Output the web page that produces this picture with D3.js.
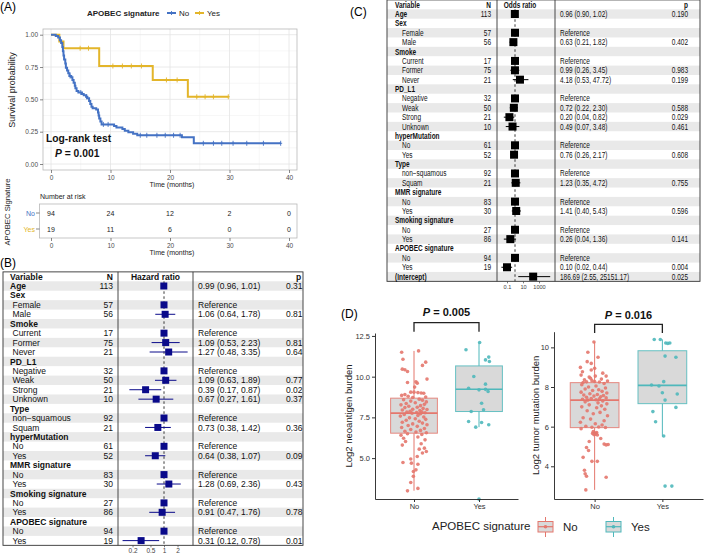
<!DOCTYPE html>
<html><head><meta charset="utf-8">
<script src="https://cdn.jsdelivr.net/npm/d3@7/dist/d3.min.js"></script>
<style>
html,body{margin:0;padding:0;background:#fff;}
svg text{font-family:'Liberation Sans',Arial,Helvetica,sans-serif;}
</style></head><body>
<svg id="fig" width="709" height="556"></svg>
<script>
// ================= DATA =================
// Panel A: Kaplan-Meier (APOBEC signature No / Yes)
const kmGroups = ["No", "Yes"];
const kmNoT = [0,0.8,1.2,1.5,1.7,1.9,2.0,2.1,2.2,2.4,2.5,2.7,2.9,3.1,3.4,3.6,3.8,4.0,4.1,4.3,4.6,5.2,5.5,5.9,6.1,6.4,6.6,6.8,7.0,7.6,7.9,8.0,8.1,8.3,8.5,10.6,11.0,12.0,12.4,13.0,13.8,14.5,22.0,24.0];
const kmNoS = [1,0.989,0.979,0.957,0.936,0.904,0.872,0.840,0.809,0.777,0.745,0.723,0.702,0.681,0.670,0.649,0.628,0.606,0.585,0.564,0.553,0.542,0.531,0.520,0.509,0.487,0.465,0.443,0.432,0.421,0.398,0.375,0.352,0.329,0.306,0.294,0.282,0.270,0.258,0.246,0.234,0.222,0.206,0.160];
const kmNoEnd = 38.6;
const kmNoCensor = [3.2,5.0,6.0,8.8,9.6,15.0,16.1,17.8,19.2,20.6,21.7,25.6,27.3,28.7,30.6,32.9,35.7,38.6];
const kmYesT = [0,1.4,2.1,8.1,17.1,23.0];
const kmYesS = [1,0.947,0.895,0.758,0.650,0.520];
const kmYesEnd = 29.8;
const kmYesCensor = [4.9,6.3,10.4,12.0,13.5,15.2,19.4,21.2,24.5,25.9,27.3,29.8];
const kmXTicks = [0,10,20,30,40];
const kmYTicks = [0,0.25,0.5,0.75,1];
const riskTimes = [0,10,20,30,40];
const riskNo = [94,24,12,2,0];
const riskYes = [19,11,6,0,0];
const logRankP = "0.001";

// Panel B: Cox model hazard ratios
const hrLabels = ["Age","Sex","Female","Male","Smoke","Current","Former","Never","PD_L1","Negative","Weak","Strong","Unknown","Type","non\u2212squamous","Squam","hyperMutation","No","Yes","MMR signature","No","Yes","Smoking signature","No","Yes","APOBEC signature","No","Yes"];
const hrIsVar = [1,1,0,0,1,0,0,0,1,0,0,0,0,1,0,0,1,0,0,1,0,0,1,0,0,1,0,0];
const hrN = [113,null,57,56,null,17,75,21,null,32,50,21,10,null,92,21,null,61,52,null,83,30,null,27,86,null,94,19];
const hrEst = [0.99,null,1,1.06,null,1,1.09,1.27,null,1,1.09,0.39,0.67,null,1,0.73,null,1,0.64,null,1,1.28,null,1,0.91,null,1,0.31];
const hrLo = [0.96,null,null,0.64,null,null,0.53,0.48,null,null,0.63,0.17,0.27,null,null,0.38,null,null,0.38,null,null,0.69,null,null,0.47,null,null,0.12];
const hrHi = [1.01,null,null,1.78,null,null,2.23,3.35,null,null,1.89,0.87,1.61,null,null,1.42,null,null,1.07,null,null,2.36,null,null,1.76,null,null,0.78];
const hrP = ["0.31","","","0.81","","","0.81","0.64","","","0.77","0.02","0.37","","","0.36","","","0.09","","","0.43","","","0.78","","","0.01"];
const hrTicks = [0.2,0.5,1,2];

// Panel C: logistic model odds ratios
const orLabels = ["Age","Sex","Female","Male","Smoke","Current","Former","Never","PD_L1","Negative","Weak","Strong","Unknown","hyperMutation","No","Yes","Type","non\u2212squamous","Squam","MMR signature","No","Yes","Smoking signature","No","Yes","APOBEC signature","No","Yes","(Intercept)"];
const orIsVar = [1,1,0,0,1,0,0,0,1,0,0,0,0,1,0,0,1,0,0,1,0,0,1,0,0,1,0,0,1];
const orN = [113,null,57,56,null,17,75,21,null,32,50,21,10,null,61,52,null,92,21,null,83,30,null,27,86,null,94,19,null];
const orEst = [0.96,null,1,0.63,null,1,0.99,4.18,null,1,0.72,0.20,0.49,null,1,0.76,null,1,1.23,null,1,1.41,null,1,0.26,null,1,0.10,186.69];
const orLo = [0.90,null,null,0.21,null,null,0.26,0.53,null,null,0.22,0.04,0.07,null,null,0.26,null,null,0.35,null,null,0.40,null,null,0.04,null,null,0.02,2.55];
const orHi = [1.02,null,null,1.82,null,null,3.45,47.72,null,null,2.30,0.82,3.48,null,null,2.17,null,null,4.72,null,null,5.43,null,null,1.36,null,null,0.44,25151.17];
const orP = ["0.190","","","0.402","","","0.983","0.199","","","0.588","0.029","0.461","","","0.608","","","0.755","","","0.596","","","0.141","","","0.004","0.025"];
const orTicks = [0.1,10,1000];

// Panel D: boxplots  [value, jitter (fraction of category step)]
const boxGroups = ["No","Yes"];
const neoNo = [[11.50,-0.19],[11.58,0.07],[11.07,-0.17],[10.46,-0.18],[10.42,-0.14],[10.32,-0.10],[10.89,0.18],[10.69,0.13],[9.85,0.20],[9.64,-0.10],[9.68,0.03],[9.60,0.05],[9.36,0.01],[9.05,-0.05],[9.05,0.00],[9.02,0.06],[9.00,0.11],[8.98,0.15],[8.90,-0.14],[8.85,-0.19],[8.80,-0.09],[8.75,0.18],[8.72,-0.02],
 [8.62,0.08],[8.58,-0.16],[8.55,0.13],[8.50,-0.05],[8.45,0.19],[8.40,0.02],[8.35,-0.12],[8.30,0.16],[8.27,-0.20],[8.22,0.10],[8.18,-0.08],[8.12,0.05],[8.10,-0.14],[8.05,0.14],[8.00,-0.02],[7.98,0.20],[7.95,-0.18],[7.92,0.09],[7.88,-0.06],[7.85,0.12],[7.82,-0.11],[7.80,0.04],[7.78,0.17],
 [7.76,-0.03],
 [7.72,0.10],[7.68,-0.15],[7.62,0.06],[7.58,-0.21],[7.52,0.15],[7.47,-0.07],[7.42,0.02],[7.38,0.18],[7.32,-0.12],[7.26,0.08],[7.20,-0.18],[7.15,0.13],[7.10,-0.02],[7.05,0.20],[7.00,-0.09],[6.95,0.05],[6.88,-0.19],[6.82,0.16],[6.76,-0.05],[6.70,0.10],[6.65,-0.14],[6.60,0.03],[6.56,0.19],
 [6.50,-0.10],[6.45,0.12],[6.40,-0.20],[6.30,0.06],[6.22,-0.16],[6.12,0.17],[6.02,-0.13],[5.88,0.11],[5.80,-0.18],[5.61,0.16],[5.55,0.08],[5.41,0.19],[5.31,0.13],[5.10,0.05],[4.95,-0.05],[4.73,-0.17],[4.69,-0.04],[4.62,0.06],[4.28,0.03],[4.18,-0.01],[3.88,-0.01],[3.50,-0.05],[3.14,0.06],[2.99,-0.10]];
const neoYes = [[11.65,-0.20],[12.10,0.01],[11.03,0.10],[11.20,0.15],[10.93,0.16],[10.01,-0.08],[9.54,0.10],[9.29,-0.16],[9.19,0.00],[9.22,0.10],[9.09,0.14],[8.37,0.04],[7.97,0.07],[7.86,-0.12],[7.25,-0.16],[6.90,-0.05],[7.19,0.04],[7.05,0.15],[2.48,0.0]];
// box stats: [lower whisker, Q1, median, Q3, upper whisker]
const neoStats = [[3.0,6.53,7.76,8.68,11.58],[6.9,7.86,9.23,10.66,12.10]];
const neoTicks = [5.0,7.5,10.0,12.5];
const neoP = "0.005";

const tmbNo = [[10.27,-0.01],[9.75,-0.10],[9.50,0.05],[9.28,-0.11],[9.19,-0.05],[8.99,-0.21],[8.94,0.00],[8.86,-0.05],[8.77,-0.18],[8.70,0.12],[8.60,-0.20],[8.55,0.01],[8.55,0.17],[8.50,-0.08],[8.44,-0.06],[8.40,0.10],[8.36,-0.15],[8.32,-0.04],[8.30,0.19],[8.28,0.00],[8.26,-0.12],[8.25,0.07],[8.23,-0.17],
 [8.18,0.14],[8.12,-0.19],[8.05,0.02],[8.00,-0.09],[7.95,0.16],[7.90,-0.14],[7.86,0.06],[7.82,-0.03],[7.78,0.11],[7.74,-0.20],[7.70,0.18],[7.66,-0.07],[7.62,0.04],[7.60,-0.16],[7.57,0.13],[7.54,-0.01],[7.51,0.09],[7.48,-0.12],[7.45,0.17],[7.42,-0.05],[7.40,0.07],[7.38,-0.18],[7.36,0.02],
 [7.34,-0.10],
 [7.30,0.12],[7.25,-0.14],[7.20,0.05],[7.15,0.18],[7.10,-0.08],[7.05,0.10],[7.00,-0.19],[6.95,0.03],[6.88,0.15],[6.80,-0.11],[6.72,0.08],[6.65,-0.02],[6.55,0.19],[6.45,-0.17],[6.38,-0.06],[6.30,0.14],[6.22,-0.21],[6.15,0.01],[6.08,0.11],[6.02,-0.13],[5.98,0.06],[5.97,-0.04],[5.96,0.16],
 [5.90,-0.20],[5.75,-0.02],[5.70,0.03],[5.68,0.00],[5.66,-0.03],[5.65,0.02],[5.62,0.01],[5.60,-0.01],[5.58,0.04],[5.40,0.09],[5.25,-0.08],[5.12,0.14],[5.10,0.20],[5.08,0.17],[4.95,-0.12],[4.80,-0.09],[4.45,-0.17],[4.25,-0.04],[4.25,0.04],[3.80,-0.15],[3.62,-0.14],[3.50,-0.12],[3.45,0.17],[2.81,-0.13]];
const tmbYes = [[10.40,-0.12],[10.40,-0.03],[10.22,0.05],[10.20,0.08],[10.22,0.11],[9.56,0.04],[9.50,0.20],[8.10,-0.16],[8.05,-0.05],[8.27,0.02],[7.71,0.00],[7.65,0.22],[7.34,0.04],[6.97,0.20],[6.76,-0.14],[6.25,-0.10],[5.53,0.02],[3.00,0.04],[3.00,0.14]];
const tmbStats = [[2.81,5.95,7.34,8.22,10.27],[5.50,7.16,8.08,9.83,10.40]];
const tmbTicks = [4,6,8,10];
const tmbP = "0.016";

// ================= DRAWING =================
const svg = d3.select("#fig");
function txt(g, x, y, s, o) {
  o = o || {};
  const e = g.append("text").text(s)
    .attr("font-size", o.size || 8)
    .attr("fill", o.fill || "#000")
    .attr("text-anchor", o.anchor || "start");
  if (o.bold) e.attr("font-weight", "bold");
  if (o.italic) e.attr("font-style", "italic");
  let tr = `translate(${x},${y})`;
  if (o.rotate) tr += ` rotate(${o.rotate})`;
  if (o.sx) tr += ` scale(${o.sx},1)`;
  e.attr("transform", tr);
  return e;
}
function pLabel(g, x, y, val, size, anchor) {
  const t = g.append("text").attr("transform", `translate(${x},${y})`)
    .attr("text-anchor", anchor || "middle").attr("font-size", size)
    .attr("font-weight", "bold").attr("fill", "#111");
  t.append("tspan").attr("font-style", "italic").text("P");
  t.append("tspan").text(" = " + val);
}

// panel letters
txt(svg, 0, 11, "(A)", {size: 12});
txt(svg, 0, 267, "(B)", {size: 12});
txt(svg, 350, 16, "(C)", {size: 12});
txt(svg, 341, 318, "(D)", {size: 12});

// ---------- Panel A ----------
const kmCol = ["#4472C4", "#E3B52A"];
const gA = svg.append("g");
const xKM = d3.scaleLinear().domain([0, 40]).range([51, 289]);
const yKM = d3.scaleLinear().domain([0, 1]).range([164, 34.7]);
const PA = {l: 43, r: 297, t: 29, b: 170};
const minorX = kmXTicks.slice(0, -1).map((d, i) => (d + kmXTicks[i + 1]) / 2);
const minorY = kmYTicks.slice(0, -1).map((d, i) => (d + kmYTicks[i + 1]) / 2);
gA.selectAll(null).data(minorX).join("line")
  .attr("x1", d => xKM(d)).attr("x2", d => xKM(d)).attr("y1", PA.t).attr("y2", PA.b)
  .attr("stroke", "#f2f2f2").attr("stroke-width", 0.6);
gA.selectAll(null).data(minorY).join("line")
  .attr("y1", d => yKM(d)).attr("y2", d => yKM(d)).attr("x1", PA.l).attr("x2", PA.r)
  .attr("stroke", "#f2f2f2").attr("stroke-width", 0.6);
gA.selectAll(null).data(kmXTicks).join("line")
  .attr("x1", d => xKM(d)).attr("x2", d => xKM(d)).attr("y1", PA.t).attr("y2", PA.b)
  .attr("stroke", "#e4e4e4").attr("stroke-width", 0.8);
gA.selectAll(null).data(kmYTicks).join("line")
  .attr("y1", d => yKM(d)).attr("y2", d => yKM(d)).attr("x1", PA.l).attr("x2", PA.r)
  .attr("stroke", "#e4e4e4").attr("stroke-width", 0.8);
gA.append("rect").attr("x", PA.l).attr("y", PA.t).attr("width", PA.r - PA.l).attr("height", PA.b - PA.t)
  .attr("fill", "none").attr("stroke", "#b8b8b8").attr("stroke-width", 0.8);

function styleAxis(sel, size, col) {
  sel.select(".domain").remove();
  sel.selectAll(".tick line").attr("stroke", col || "#555").attr("stroke-width", 0.7);
  sel.selectAll(".tick text").attr("font-size", size).attr("fill", col || "#4d4d4d")
    .attr("font-family", "'Liberation Sans',Arial,sans-serif");
}
const axXA = gA.append("g").attr("transform", `translate(0,${PA.b})`)
  .call(d3.axisBottom(xKM).tickValues(kmXTicks).tickSize(3).tickPadding(2));
styleAxis(axXA, 6.5);
const axYA = gA.append("g").attr("transform", `translate(${PA.l},0)`)
  .call(d3.axisLeft(yKM).tickValues(kmYTicks).tickFormat(d3.format(".2f")).tickSize(3).tickPadding(2));
styleAxis(axYA, 6.5);
txt(gA, 172, 187, "Time (months)", {size: 7, anchor: "middle", fill: "#222"});
txt(gA, 15, 90, "Survival probability", {size: 9, anchor: "middle", rotate: -90, fill: "#222"});

function stepPts(T, S, end) { const p = T.map((t, i) => [t, S[i]]); p.push([end, S[S.length - 1]]); return p; }
function survAt(T, S, t) { let v = S[0]; T.forEach((tt, i) => { if (tt <= t) v = S[i]; }); return v; }
const kmLine = d3.line().x(d => xKM(d[0])).y(d => yKM(d[1])).curve(d3.curveStepAfter);
const kmSets = [
  {T: kmNoT, S: kmNoS, end: kmNoEnd, cens: kmNoCensor, col: kmCol[0]},
  {T: kmYesT, S: kmYesS, end: kmYesEnd, cens: kmYesCensor, col: kmCol[1]}
];
kmSets.slice().reverse().forEach(k => {
  gA.append("path").attr("d", kmLine(stepPts(k.T, k.S, k.end)))
    .attr("fill", "none").attr("stroke", k.col).attr("stroke-width", 2);
  gA.selectAll(null).data(k.cens).join("path")
    .attr("d", d => { const x = xKM(d), y = yKM(survAt(k.T, k.S, d)); return `M${x},${y - 2.5}V${y + 2.5}M${x - 1.5},${y}H${x + 1.5}`; })
    .attr("stroke", k.col).attr("stroke-width", 0.9);
});
txt(gA, 46, 142, "Log-rank test", {size: 10.3, bold: 1, fill: "#111"});
pLabel(gA, 55, 157, logRankP, 10.3, "start");

// legend A
txt(gA, 87, 16, "APOBEC signature", {size: 8, bold: 1, fill: "#222"});
[[167, 179], [195, 207]].forEach((p, i) => {
  gA.append("line").attr("x1", p[0]).attr("x2", p[0] + 9).attr("y1", 13).attr("y2", 13)
    .attr("stroke", kmCol[i]).attr("stroke-width", 2);
  gA.append("path").attr("d", `M${p[0] + 4.5},11V15`).attr("stroke", kmCol[i]).attr("stroke-width", 0.9);
  txt(gA, p[1], 16, kmGroups[i], {size: 8, fill: "#222"});
});

// risk table
const RT = {t: 204, b: 238, l: 39.5, r: 297};
txt(gA, 40, 199, "Number at risk", {size: 7, fill: "#222"});
gA.append("rect").attr("x", RT.l).attr("y", RT.t).attr("width", RT.r - RT.l).attr("height", RT.b - RT.t)
  .attr("fill", "none").attr("stroke", "#b8b8b8").attr("stroke-width", 0.8);
[[riskNo, 213], [riskYes, 229]].forEach((r, i) => {
  riskTimes.forEach((t, j) => txt(gA, xKM(t), r[1] + 2.5, r[0][j], {size: 7, anchor: "middle", fill: "#222"}));
  txt(gA, 35, r[1] + 2.5, kmGroups[i], {size: 7, anchor: "end", fill: kmCol[i]});
  gA.append("line").attr("x1", 36).attr("x2", RT.l).attr("y1", r[1]).attr("y2", r[1]).attr("stroke", "#555").attr("stroke-width", 0.7);
});
const axRT = gA.append("g").attr("transform", `translate(0,${RT.b})`)
  .call(d3.axisBottom(xKM).tickValues(riskTimes).tickSize(3).tickPadding(2));
styleAxis(axRT, 6.5);
txt(gA, 172, 255, "Time (months)", {size: 7, anchor: "middle", fill: "#222"});
txt(gA, 10, 212, "APOBEC Signature", {size: 7.7, anchor: "middle", rotate: -90, fill: "#222"});

// ---------- Forest plots ----------
function forest(c) {
  const g = svg.append("g");
  const n = c.labels.length;
  const yc = i => c.row0 + i * c.rowH;
  const top = c.head - c.rowH / 2, bot = yc(n - 1) + c.rowH / 2;
  g.selectAll(null).data(d3.range(0, n, 2)).join("rect")
    .attr("x", c.x0).attr("width", c.x1 - c.x0)
    .attr("y", i => yc(i) - c.rowH / 2).attr("height", c.rowH).attr("fill", "#e9e9e9");
  g.append("line").attr("x1", c.xs(1)).attr("x2", c.xs(1)).attr("y1", top + c.rowH).attr("y2", bot)
    .attr("stroke", "#222").attr("stroke-width", 0.9).attr("stroke-dasharray", "2.5,2.5");
  g.append("rect").attr("x", c.x0).attr("y", top).attr("width", c.x1 - c.x0).attr("height", bot - top)
    .attr("fill", "none").attr("stroke", "#333").attr("stroke-width", 0.9);
  [c.v1, c.v2].forEach(x => g.append("line").attr("x1", x).attr("x2", x).attr("y1", top).attr("y2", bot)
    .attr("stroke", "#333").attr("stroke-width", 0.9));
  const o = (extra) => Object.assign({size: c.fs, sx: c.sx, fill: "#111"}, extra || {});
  const by = c.fs * 0.36;
  txt(g, c.labX, c.head + by, "Variable", o({bold: 1}));
  txt(g, c.nX, c.head + by, "N", o({bold: 1, anchor: "end"}));
  txt(g, c.titleX, c.head + by, c.title, o({bold: 1, anchor: "middle"}));
  txt(g, c.pHX, c.head + by, "p", o({bold: 1, anchor: c.pAnchor}));
  c.labels.forEach((lab, i) => {
    const y = yc(i) + by;
    txt(g, c.isVar[i] ? c.labX : c.lvlX, y, lab, o({bold: c.isVar[i]}));
    if (c.N[i] != null) txt(g, c.nX, y, c.N[i], o({anchor: "end"}));
    if (c.est[i] != null) {
      const s = c.lo[i] == null ? "Reference" : `${c.est[i].toFixed(2)} (${c.lo[i].toFixed(2)}, ${c.hi[i].toFixed(2)})`;
      txt(g, c.estX, y, s, o());
    }
    if (c.p[i]) txt(g, c.pX, y, c.p[i], o({anchor: c.pAnchor}));
  });
  c.est.forEach((e, i) => {
    if (e == null) return;
    if (c.lo[i] != null) g.append("line").attr("x1", c.xs(c.lo[i])).attr("x2", c.xs(c.hi[i]))
      .attr("y1", yc(i)).attr("y2", yc(i)).attr("stroke", c.col).attr("stroke-width", 1);
    g.append("rect").attr("x", c.xs(e) - c.box / 2).attr("y", yc(i) - c.box / 2)
      .attr("width", c.box).attr("height", c.box).attr("fill", c.col);
  });
  const ax = g.append("g").attr("transform", `translate(0,${bot})`)
    .call(d3.axisBottom(c.xs).tickValues(c.ticks).tickFormat(d => String(d)).tickSize(2).tickPadding(1.5));
  styleAxis(ax, c.tickFs, "#444");
}
forest({
  labels: hrLabels, isVar: hrIsVar, N: hrN, est: hrEst, lo: hrLo, hi: hrHi, p: hrP, ticks: hrTicks,
  xs: d3.scaleLog().domain([0.1, 10]).range([119, 209]),
  x0: 3, x1: 303, v1: 118, v2: 193, head: 276.6, row0: 286, rowH: 9.43,
  labX: 10, lvlX: 12.5, nX: 113, titleX: 155.5, title: "Hazard ratio", estX: 198, pX: 286, pHX: 296, pAnchor: "start",
  fs: 8.5, sx: 1, box: 7, col: "#0a0a8a", tickFs: 6.5
});
forest({
  labels: orLabels, isVar: orIsVar, N: orN, est: orEst, lo: orLo, hi: orHi, p: orP, ticks: orTicks,
  xs: d3.scaleLog().domain([0.1, 1000]).range([507, 539]),
  x0: 387, x1: 700, v1: 497, v2: 555, head: 4.6, row0: 14, rowH: 9.38,
  labX: 395, lvlX: 402, nX: 491, titleX: 520, title: "Odds ratio", estX: 560, pX: 688, pHX: 688, pAnchor: "end",
  fs: 8.3, sx: 0.78, box: 8, col: "#000", tickFs: 5.6
});

// ---------- Panel D ----------
const colD = ["#E4776D", "#4FB8BB"];
function boxPanel(c) {
  const g = svg.append("g");
  const x = d3.scalePoint().domain(boxGroups).range([c.xL, c.xR]).padding(0.6);
  const y = d3.scaleLinear().domain(c.dom).range([c.yB, c.yT]);
  const step = x.step(), bw = step * 0.72;
  c.stats.forEach((s, i) => {
    const cx = x(boxGroups[i]), col = colD[i];
    g.append("line").attr("x1", cx).attr("x2", cx).attr("y1", y(s[0])).attr("y2", y(s[1])).attr("stroke", col).attr("stroke-width", 1);
    g.append("line").attr("x1", cx).attr("x2", cx).attr("y1", y(s[3])).attr("y2", y(s[4])).attr("stroke", col).attr("stroke-width", 1);
    g.append("rect").attr("x", cx - bw / 2).attr("y", y(s[3])).attr("width", bw).attr("height", y(s[1]) - y(s[3]))
      .attr("fill", "#d9d9d9").attr("stroke", col).attr("stroke-opacity", 0.85).attr("stroke-width", 1);
    g.append("line").attr("x1", cx - bw / 2).attr("x2", cx + bw / 2).attr("y1", y(s[2])).attr("y2", y(s[2]))
      .attr("stroke", col).attr("stroke-width", 1.6);
  });
  [c.no, c.yes].forEach((pts, i) => {
    g.selectAll(null).data(pts).join("circle")
      .attr("cx", d => x(boxGroups[i]) + d[1] * step).attr("cy", d => y(d[0])).attr("r", 1.8)
      .attr("fill", colD[i]).attr("fill-opacity", 0.9);
  });
  const ay = g.append("g").attr("transform", `translate(${c.xL},0)`)
    .call(d3.axisLeft(y).tickValues(c.ticks).tickFormat(c.fmt).tickSize(3).tickSizeOuter(0).tickPadding(2));
  ay.select(".domain").attr("stroke", "#222").attr("stroke-width", 0.9);
  ay.selectAll(".tick line").attr("stroke", "#333");
  ay.selectAll(".tick text").attr("font-size", 7.5).attr("fill", "#333").attr("font-family", "'Liberation Sans',Arial,sans-serif");
  const ax = g.append("g").attr("transform", `translate(0,${c.yB})`)
    .call(d3.axisBottom(x).tickSize(3).tickSizeOuter(0).tickPadding(2));
  ax.select(".domain").attr("stroke", "#222").attr("stroke-width", 0.9);
  ax.selectAll(".tick line").attr("stroke", "#333");
  ax.selectAll(".tick text").attr("font-size", 7.5).attr("fill", "#333").attr("font-family", "'Liberation Sans',Arial,sans-serif");
  txt(g, c.labX, (c.yB + c.yT) / 2, c.ylab, {size: 9.5, anchor: "middle", rotate: -90, fill: "#222"});
  const x1 = x(boxGroups[0]), x2 = x(boxGroups[1]);
  g.append("path").attr("d", `M${x1},${c.brB}V${c.brY}H${x2}V${c.brB}`)
    .attr("fill", "none").attr("stroke", "#222").attr("stroke-width", 1.3);
  pLabel(g, (x1 + x2) / 2, c.pY, c.p, 11);
}
boxPanel({xL: 375, xR: 518, yB: 499, yT: 333, dom: [2.49, 12.68], ticks: neoTicks, fmt: d3.format(".1f"),
  no: neoNo, yes: neoYes, stats: neoStats, ylab: "Log2 neoantigen burden", labX: 352,
  brY: 322.7, brB: 331.7, pY: 316, p: neoP});
boxPanel({xL: 554, xR: 703, yB: 499, yT: 331.7, dom: [2.35, 10.79], ticks: tmbTicks, fmt: d3.format("d"),
  no: tmbNo, yes: tmbYes, stats: tmbStats, ylab: "Log2  tumor mutation burden", labX: 539,
  brY: 324.3, brB: 333, pY: 318.5, p: tmbP});

// legend D
const gL = svg.append("g");
txt(gL, 432, 530, "APOBEC signature", {size: 11.5, fill: "#222"});
[[538, 563], [606, 631]].forEach((p, i) => {
  const cx = p[0] + 7.5;
  gL.append("line").attr("x1", cx).attr("x2", cx).attr("y1", 517).attr("y2", 537).attr("stroke", colD[i]).attr("stroke-width", 1);
  gL.append("rect").attr("x", p[0]).attr("y", 521.5).attr("width", 15).attr("height", 10.5)
    .attr("fill", "#d9d9d9").attr("stroke", colD[i]).attr("stroke-width", 1);
  gL.append("line").attr("x1", p[0]).attr("x2", p[0] + 15).attr("y1", 526.7).attr("y2", 526.7).attr("stroke", colD[i]).attr("stroke-width", 1.2);
  gL.append("circle").attr("cx", cx).attr("cy", 526.7).attr("r", 1.8).attr("fill", colD[i]);
  txt(gL, p[1], 531, boxGroups[i], {size: 11.5, fill: "#222"});
});
</script></body></html>
